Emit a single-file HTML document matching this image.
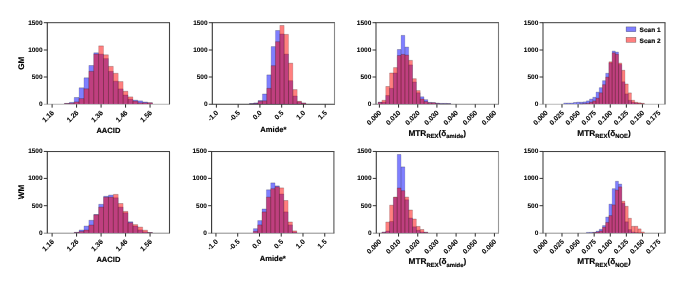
<!DOCTYPE html><html><head><meta charset="utf-8"><style>html,body{margin:0;padding:0;background:#fff;}svg{display:block;will-change:transform;filter:blur(0.25px);}text{text-rendering:geometricPrecision;font-family:"Liberation Sans", sans-serif;font-weight:bold;fill:#000;stroke:#000;stroke-width:0.16px;}text.t{stroke-width:0.08px;}</style></head><body>
<svg width="685" height="284" viewBox="0 0 685 284">
<path d="M43.80 104.25H170.00" fill="none" stroke="#b4b4b4" stroke-width="1"/>
<g fill="rgba(0,0,255,0.5)"><rect x="64.35" y="103.40" width="4.90" height="0.50"/><rect x="69.25" y="102.40" width="4.90" height="1.50"/><rect x="74.15" y="97.50" width="4.90" height="6.40"/><rect x="79.04" y="87.80" width="4.90" height="16.10"/><rect x="83.94" y="77.80" width="4.90" height="26.10"/><rect x="88.84" y="65.50" width="4.90" height="38.40"/><rect x="93.74" y="52.80" width="4.90" height="51.10"/><rect x="98.64" y="54.10" width="4.90" height="49.80"/><rect x="103.53" y="58.60" width="4.90" height="45.30"/><rect x="108.43" y="71.30" width="4.90" height="32.60"/><rect x="113.33" y="81.20" width="4.90" height="22.70"/><rect x="118.23" y="88.90" width="4.90" height="15.00"/><rect x="123.13" y="95.00" width="4.90" height="8.90"/><rect x="128.02" y="99.10" width="4.90" height="4.80"/><rect x="132.92" y="100.20" width="4.90" height="3.70"/><rect x="137.82" y="100.90" width="4.90" height="3.00"/><rect x="142.72" y="102.00" width="4.90" height="1.90"/><rect x="147.62" y="102.80" width="4.90" height="1.10"/></g>
<path d="M64.35 103.40V103.90M69.25 103.40V103.90M69.25 102.40V103.90M74.15 102.40V103.90M74.15 97.50V103.90M79.04 97.50V103.90M79.04 87.80V103.90M83.94 87.80V103.90M83.94 77.80V103.90M88.84 77.80V103.90M88.84 65.50V103.90M93.74 65.50V103.90M93.74 52.80V103.90M98.64 52.80V103.90M98.64 54.10V103.90M103.53 54.10V103.90M103.53 58.60V103.90M108.43 58.60V103.90M108.43 71.30V103.90M113.33 71.30V103.90M113.33 81.20V103.90M118.23 81.20V103.90M118.23 88.90V103.90M123.13 88.90V103.90M123.13 95.00V103.90M128.02 95.00V103.90M128.02 99.10V103.90M132.92 99.10V103.90M132.92 100.20V103.90M137.82 100.20V103.90M137.82 100.90V103.90M142.72 100.90V103.90M142.72 102.00V103.90M147.62 102.00V103.90M147.62 102.80V103.90M152.51 102.80V103.90" stroke="rgba(0,0,0,0.32)" stroke-width="0.40" fill="none"/>
<path d="M64.35 103.40H69.25M69.25 102.40H74.15M74.15 97.50H79.04M79.04 87.80H83.94M83.94 77.80H88.84M88.84 65.50H93.74M93.74 52.80H98.64M98.64 54.10H103.53M103.53 58.60H108.43M108.43 71.30H113.33M113.33 81.20H118.23M118.23 88.90H123.13M123.13 95.00H128.02M128.02 99.10H132.92M132.92 100.20H137.82M137.82 100.90H142.72M142.72 102.00H147.62M147.62 102.80H152.51" stroke="rgba(0,0,0,0.50)" stroke-width="0.45" fill="none"/>
<g fill="rgba(255,0,0,0.5)"><rect x="64.35" y="103.50" width="4.90" height="0.40"/><rect x="69.25" y="103.20" width="4.90" height="0.70"/><rect x="74.15" y="101.90" width="4.90" height="2.00"/><rect x="79.04" y="98.60" width="4.90" height="5.30"/><rect x="83.94" y="88.80" width="4.90" height="15.10"/><rect x="88.84" y="71.30" width="4.90" height="32.60"/><rect x="93.74" y="54.10" width="4.90" height="49.80"/><rect x="98.64" y="45.90" width="4.90" height="58.00"/><rect x="103.53" y="54.80" width="4.90" height="49.10"/><rect x="108.43" y="66.40" width="4.90" height="37.50"/><rect x="113.33" y="73.30" width="4.90" height="30.60"/><rect x="118.23" y="81.60" width="4.90" height="22.30"/><rect x="123.13" y="91.30" width="4.90" height="12.60"/><rect x="128.02" y="96.90" width="4.90" height="7.00"/><rect x="132.92" y="101.10" width="4.90" height="2.80"/><rect x="137.82" y="102.80" width="4.90" height="1.10"/><rect x="142.72" y="102.80" width="4.90" height="1.10"/><rect x="147.62" y="102.80" width="4.90" height="1.10"/></g>
<path d="M64.35 103.50V103.90M69.25 103.50V103.90M69.25 103.20V103.90M74.15 103.20V103.90M74.15 101.90V103.90M79.04 101.90V103.90M79.04 98.60V103.90M83.94 98.60V103.90M83.94 88.80V103.90M88.84 88.80V103.90M88.84 71.30V103.90M93.74 71.30V103.90M93.74 54.10V103.90M98.64 54.10V103.90M98.64 45.90V103.90M103.53 45.90V103.90M103.53 54.80V103.90M108.43 54.80V103.90M108.43 66.40V103.90M113.33 66.40V103.90M113.33 73.30V103.90M118.23 73.30V103.90M118.23 81.60V103.90M123.13 81.60V103.90M123.13 91.30V103.90M128.02 91.30V103.90M128.02 96.90V103.90M132.92 96.90V103.90M132.92 101.10V103.90M137.82 101.10V103.90M137.82 102.80V103.90M142.72 102.80V103.90M142.72 102.80V103.90M147.62 102.80V103.90M147.62 102.80V103.90M152.51 102.80V103.90" stroke="rgba(0,0,0,0.32)" stroke-width="0.40" fill="none"/>
<path d="M64.35 103.50H69.25M69.25 103.20H74.15M74.15 101.90H79.04M79.04 98.60H83.94M83.94 88.80H88.84M88.84 71.30H93.74M93.74 54.10H98.64M98.64 45.90H103.53M103.53 54.80H108.43M108.43 66.40H113.33M113.33 73.30H118.23M118.23 81.60H123.13M123.13 91.30H128.02M128.02 96.90H132.92M132.92 101.10H137.82M137.82 102.80H142.72M142.72 102.80H147.62M147.62 102.80H152.51" stroke="rgba(0,0,0,0.50)" stroke-width="0.45" fill="none"/>
<path d="M46.80 22.70H170.00" fill="none" stroke="#3a3a3a" stroke-width="1"/>
<path d="M47.30 22.70V104.25" fill="none" stroke="#333" stroke-width="1.10"/>
<path d="M169.50 22.70V104.25" fill="none" stroke="#444" stroke-width="1.10"/>
<text class="t" x="42.60" y="105.90" font-size="6.50" text-anchor="end">0</text>
<path d="M43.80 77.00H47.30" stroke="#333" stroke-width="1"/>
<text class="t" x="42.60" y="78.90" font-size="6.50" text-anchor="end">500</text>
<path d="M43.80 50.00H47.30" stroke="#333" stroke-width="1"/>
<text class="t" x="42.60" y="51.90" font-size="6.50" text-anchor="end">1000</text>
<path d="M43.80 22.70H47.30" stroke="#333" stroke-width="1"/>
<text class="t" x="42.60" y="24.60" font-size="6.50" text-anchor="end">1500</text>
<path d="M52.10 104.25V107.65" stroke="#2a2a2a" stroke-width="1"/>
<text class="t" x="54.50" y="113.20" font-size="6.90" text-anchor="end" transform="rotate(-45 54.50 113.20)">1.16</text>
<path d="M76.59 104.25V107.65" stroke="#2a2a2a" stroke-width="1"/>
<text class="t" x="78.99" y="113.20" font-size="6.90" text-anchor="end" transform="rotate(-45 78.99 113.20)">1.26</text>
<path d="M101.08 104.25V107.65" stroke="#2a2a2a" stroke-width="1"/>
<text class="t" x="103.48" y="113.20" font-size="6.90" text-anchor="end" transform="rotate(-45 103.48 113.20)">1.36</text>
<path d="M125.57 104.25V107.65" stroke="#2a2a2a" stroke-width="1"/>
<text class="t" x="127.97" y="113.20" font-size="6.90" text-anchor="end" transform="rotate(-45 127.97 113.20)">1.46</text>
<path d="M150.06 104.25V107.65" stroke="#2a2a2a" stroke-width="1"/>
<text class="t" x="152.46" y="113.20" font-size="6.90" text-anchor="end" transform="rotate(-45 152.46 113.20)">1.56</text>
<text x="108.40" y="132.90" font-size="7.6" text-anchor="middle">AACID</text>
<path d="M208.80 104.25H335.00" fill="none" stroke="#3a3a3a" stroke-width="1"/>
<g fill="rgba(0,0,255,0.5)"><rect x="249.34" y="103.50" width="4.35" height="0.40"/><rect x="253.69" y="102.90" width="4.35" height="1.00"/><rect x="258.04" y="100.50" width="4.35" height="3.40"/><rect x="262.40" y="94.00" width="4.35" height="9.90"/><rect x="266.75" y="74.90" width="4.35" height="29.00"/><rect x="271.10" y="46.60" width="4.35" height="57.30"/><rect x="275.45" y="30.50" width="4.35" height="73.40"/><rect x="279.80" y="34.00" width="4.35" height="69.90"/><rect x="284.16" y="54.10" width="4.35" height="49.80"/><rect x="288.51" y="80.70" width="4.35" height="23.20"/><rect x="292.86" y="96.00" width="4.35" height="7.90"/><rect x="297.21" y="101.80" width="4.35" height="2.10"/><rect x="301.56" y="103.10" width="4.35" height="0.80"/></g>
<path d="M249.34 103.50V103.90M253.69 103.50V103.90M253.69 102.90V103.90M258.04 102.90V103.90M258.04 100.50V103.90M262.40 100.50V103.90M262.40 94.00V103.90M266.75 94.00V103.90M266.75 74.90V103.90M271.10 74.90V103.90M271.10 46.60V103.90M275.45 46.60V103.90M275.45 30.50V103.90M279.80 30.50V103.90M279.80 34.00V103.90M284.16 34.00V103.90M284.16 54.10V103.90M288.51 54.10V103.90M288.51 80.70V103.90M292.86 80.70V103.90M292.86 96.00V103.90M297.21 96.00V103.90M297.21 101.80V103.90M301.56 101.80V103.90M301.56 103.10V103.90M305.92 103.10V103.90" stroke="rgba(0,0,0,0.32)" stroke-width="0.40" fill="none"/>
<path d="M249.34 103.50H253.69M253.69 102.90H258.04M258.04 100.50H262.40M262.40 94.00H266.75M266.75 74.90H271.10M271.10 46.60H275.45M275.45 30.50H279.80M279.80 34.00H284.16M284.16 54.10H288.51M288.51 80.70H292.86M292.86 96.00H297.21M297.21 101.80H301.56M301.56 103.10H305.92" stroke="rgba(0,0,0,0.50)" stroke-width="0.45" fill="none"/>
<g fill="rgba(255,0,0,0.5)"><rect x="249.34" y="103.80" width="4.35" height="0.10"/><rect x="253.69" y="103.50" width="4.35" height="0.40"/><rect x="258.04" y="101.30" width="4.35" height="2.60"/><rect x="262.40" y="100.80" width="4.35" height="3.10"/><rect x="266.75" y="88.30" width="4.35" height="15.60"/><rect x="271.10" y="65.70" width="4.35" height="38.20"/><rect x="275.45" y="41.70" width="4.35" height="62.20"/><rect x="279.80" y="25.50" width="4.35" height="78.40"/><rect x="284.16" y="34.40" width="4.35" height="69.50"/><rect x="288.51" y="63.20" width="4.35" height="40.70"/><rect x="292.86" y="89.60" width="4.35" height="14.30"/><rect x="297.21" y="101.30" width="4.35" height="2.60"/><rect x="301.56" y="103.10" width="4.35" height="0.80"/></g>
<path d="M249.34 103.80V103.90M253.69 103.80V103.90M253.69 103.50V103.90M258.04 103.50V103.90M258.04 101.30V103.90M262.40 101.30V103.90M262.40 100.80V103.90M266.75 100.80V103.90M266.75 88.30V103.90M271.10 88.30V103.90M271.10 65.70V103.90M275.45 65.70V103.90M275.45 41.70V103.90M279.80 41.70V103.90M279.80 25.50V103.90M284.16 25.50V103.90M284.16 34.40V103.90M288.51 34.40V103.90M288.51 63.20V103.90M292.86 63.20V103.90M292.86 89.60V103.90M297.21 89.60V103.90M297.21 101.30V103.90M301.56 101.30V103.90M301.56 103.10V103.90M305.92 103.10V103.90" stroke="rgba(0,0,0,0.32)" stroke-width="0.40" fill="none"/>
<path d="M249.34 103.80H253.69M253.69 103.50H258.04M258.04 101.30H262.40M262.40 100.80H266.75M266.75 88.30H271.10M271.10 65.70H275.45M275.45 41.70H279.80M279.80 25.50H284.16M284.16 34.40H288.51M288.51 63.20H292.86M292.86 89.60H297.21M297.21 101.30H301.56M301.56 103.10H305.92" stroke="rgba(0,0,0,0.50)" stroke-width="0.45" fill="none"/>
<path d="M211.80 22.70H335.00" fill="none" stroke="#3a3a3a" stroke-width="1"/>
<path d="M212.30 22.70V104.25" fill="none" stroke="#333" stroke-width="1.10"/>
<path d="M334.50 22.70V104.25" fill="none" stroke="#888" stroke-width="1.10"/>
<text class="t" x="207.60" y="105.90" font-size="6.50" text-anchor="end">0</text>
<path d="M208.80 77.00H212.30" stroke="#333" stroke-width="1"/>
<text class="t" x="207.60" y="78.90" font-size="6.50" text-anchor="end">500</text>
<path d="M208.80 50.00H212.30" stroke="#333" stroke-width="1"/>
<text class="t" x="207.60" y="51.90" font-size="6.50" text-anchor="end">1000</text>
<path d="M208.80 22.70H212.30" stroke="#333" stroke-width="1"/>
<text class="t" x="207.60" y="24.60" font-size="6.50" text-anchor="end">1500</text>
<path d="M216.40 104.25V107.65" stroke="#2a2a2a" stroke-width="1"/>
<text class="t" x="218.80" y="113.20" font-size="6.90" text-anchor="end" transform="rotate(-45 218.80 113.20)">-1.0</text>
<path d="M238.16 104.25V107.65" stroke="#2a2a2a" stroke-width="1"/>
<text class="t" x="240.56" y="113.20" font-size="6.90" text-anchor="end" transform="rotate(-45 240.56 113.20)">-0.5</text>
<path d="M259.92 104.25V107.65" stroke="#2a2a2a" stroke-width="1"/>
<text class="t" x="262.32" y="113.20" font-size="6.90" text-anchor="end" transform="rotate(-45 262.32 113.20)">0.0</text>
<path d="M281.68 104.25V107.65" stroke="#2a2a2a" stroke-width="1"/>
<text class="t" x="284.08" y="113.20" font-size="6.90" text-anchor="end" transform="rotate(-45 284.08 113.20)">0.5</text>
<path d="M303.44 104.25V107.65" stroke="#2a2a2a" stroke-width="1"/>
<text class="t" x="305.84" y="113.20" font-size="6.90" text-anchor="end" transform="rotate(-45 305.84 113.20)">1.0</text>
<path d="M325.20 104.25V107.65" stroke="#2a2a2a" stroke-width="1"/>
<text class="t" x="327.60" y="113.20" font-size="6.90" text-anchor="end" transform="rotate(-45 327.60 113.20)">1.5</text>
<text x="273.40" y="132.30" font-size="7.6" text-anchor="middle">Amide*</text>
<path d="M372.50 104.25H499.00" fill="none" stroke="#8c8c8c" stroke-width="1"/>
<g fill="rgba(0,0,255,0.5)"><rect x="378.05" y="102.20" width="3.83" height="1.70"/><rect x="381.88" y="102.10" width="3.83" height="1.80"/><rect x="385.72" y="95.50" width="3.83" height="8.40"/><rect x="389.55" y="88.30" width="3.83" height="15.60"/><rect x="393.39" y="73.00" width="3.83" height="30.90"/><rect x="397.22" y="49.50" width="3.83" height="54.40"/><rect x="401.05" y="35.40" width="3.83" height="68.50"/><rect x="404.89" y="47.10" width="3.83" height="56.80"/><rect x="408.72" y="64.90" width="3.83" height="39.00"/><rect x="412.56" y="82.00" width="3.83" height="21.90"/><rect x="416.39" y="92.80" width="3.83" height="11.10"/><rect x="420.22" y="96.80" width="3.83" height="7.10"/><rect x="424.06" y="99.70" width="3.83" height="4.20"/><rect x="427.89" y="102.40" width="3.83" height="1.50"/><rect x="431.73" y="102.60" width="3.83" height="1.30"/><rect x="435.56" y="103.10" width="3.83" height="0.80"/><rect x="439.39" y="103.40" width="3.83" height="0.50"/><rect x="443.23" y="103.40" width="3.83" height="0.50"/><rect x="447.06" y="103.50" width="3.83" height="0.40"/></g>
<path d="M378.05 102.20V103.90M381.88 102.20V103.90M381.88 102.10V103.90M385.72 102.10V103.90M385.72 95.50V103.90M389.55 95.50V103.90M389.55 88.30V103.90M393.39 88.30V103.90M393.39 73.00V103.90M397.22 73.00V103.90M397.22 49.50V103.90M401.05 49.50V103.90M401.05 35.40V103.90M404.89 35.40V103.90M404.89 47.10V103.90M408.72 47.10V103.90M408.72 64.90V103.90M412.56 64.90V103.90M412.56 82.00V103.90M416.39 82.00V103.90M416.39 92.80V103.90M420.22 92.80V103.90M420.22 96.80V103.90M424.06 96.80V103.90M424.06 99.70V103.90M427.89 99.70V103.90M427.89 102.40V103.90M431.73 102.40V103.90M431.73 102.60V103.90M435.56 102.60V103.90M435.56 103.10V103.90M439.39 103.10V103.90M439.39 103.40V103.90M443.23 103.40V103.90M443.23 103.40V103.90M447.06 103.40V103.90M447.06 103.50V103.90M450.90 103.50V103.90" stroke="rgba(0,0,0,0.32)" stroke-width="0.40" fill="none"/>
<path d="M378.05 102.20H381.88M381.88 102.10H385.72M385.72 95.50H389.55M389.55 88.30H393.39M393.39 73.00H397.22M397.22 49.50H401.05M401.05 35.40H404.89M404.89 47.10H408.72M408.72 64.90H412.56M412.56 82.00H416.39M416.39 92.80H420.22M420.22 96.80H424.06M424.06 99.70H427.89M427.89 102.40H431.73M431.73 102.60H435.56M435.56 103.10H439.39M439.39 103.40H443.23M443.23 103.40H447.06M447.06 103.50H450.90" stroke="rgba(0,0,0,0.50)" stroke-width="0.45" fill="none"/>
<g fill="rgba(255,0,0,0.5)"><rect x="378.05" y="102.40" width="3.83" height="1.50"/><rect x="381.88" y="100.30" width="3.83" height="3.60"/><rect x="385.72" y="86.50" width="3.83" height="17.40"/><rect x="389.55" y="73.00" width="3.83" height="30.90"/><rect x="393.39" y="67.60" width="3.83" height="36.30"/><rect x="397.22" y="55.50" width="3.83" height="48.40"/><rect x="401.05" y="54.40" width="3.83" height="49.50"/><rect x="404.89" y="55.10" width="3.83" height="48.80"/><rect x="408.72" y="60.40" width="3.83" height="43.50"/><rect x="412.56" y="78.70" width="3.83" height="25.20"/><rect x="416.39" y="90.60" width="3.83" height="13.30"/><rect x="420.22" y="99.00" width="3.83" height="4.90"/><rect x="424.06" y="101.50" width="3.83" height="2.40"/><rect x="427.89" y="102.80" width="3.83" height="1.10"/><rect x="431.73" y="102.80" width="3.83" height="1.10"/><rect x="435.56" y="103.50" width="3.83" height="0.40"/><rect x="439.39" y="103.80" width="3.83" height="0.10"/><rect x="443.23" y="103.80" width="3.83" height="0.10"/><rect x="447.06" y="103.80" width="3.83" height="0.10"/></g>
<path d="M378.05 102.40V103.90M381.88 102.40V103.90M381.88 100.30V103.90M385.72 100.30V103.90M385.72 86.50V103.90M389.55 86.50V103.90M389.55 73.00V103.90M393.39 73.00V103.90M393.39 67.60V103.90M397.22 67.60V103.90M397.22 55.50V103.90M401.05 55.50V103.90M401.05 54.40V103.90M404.89 54.40V103.90M404.89 55.10V103.90M408.72 55.10V103.90M408.72 60.40V103.90M412.56 60.40V103.90M412.56 78.70V103.90M416.39 78.70V103.90M416.39 90.60V103.90M420.22 90.60V103.90M420.22 99.00V103.90M424.06 99.00V103.90M424.06 101.50V103.90M427.89 101.50V103.90M427.89 102.80V103.90M431.73 102.80V103.90M431.73 102.80V103.90M435.56 102.80V103.90M435.56 103.50V103.90M439.39 103.50V103.90M439.39 103.80V103.90M443.23 103.80V103.90M443.23 103.80V103.90M447.06 103.80V103.90M447.06 103.80V103.90M450.90 103.80V103.90" stroke="rgba(0,0,0,0.32)" stroke-width="0.40" fill="none"/>
<path d="M378.05 102.40H381.88M381.88 100.30H385.72M385.72 86.50H389.55M389.55 73.00H393.39M393.39 67.60H397.22M397.22 55.50H401.05M401.05 54.40H404.89M404.89 55.10H408.72M408.72 60.40H412.56M412.56 78.70H416.39M416.39 90.60H420.22M420.22 99.00H424.06M424.06 101.50H427.89M427.89 102.80H431.73M431.73 102.80H435.56M435.56 103.50H439.39M439.39 103.80H443.23M443.23 103.80H447.06M447.06 103.80H450.90" stroke="rgba(0,0,0,0.50)" stroke-width="0.45" fill="none"/>
<path d="M375.50 22.70H499.00" fill="none" stroke="#3a3a3a" stroke-width="1"/>
<path d="M376.00 22.70V104.25" fill="none" stroke="#444" stroke-width="1.10"/>
<path d="M498.50 22.70V104.25" fill="none" stroke="#777" stroke-width="1.10"/>
<text class="t" x="371.30" y="105.90" font-size="6.50" text-anchor="end">0</text>
<path d="M372.50 77.00H376.00" stroke="#333" stroke-width="1"/>
<text class="t" x="371.30" y="78.90" font-size="6.50" text-anchor="end">500</text>
<path d="M372.50 50.00H376.00" stroke="#333" stroke-width="1"/>
<text class="t" x="371.30" y="51.90" font-size="6.50" text-anchor="end">1000</text>
<path d="M372.50 22.70H376.00" stroke="#333" stroke-width="1"/>
<text class="t" x="371.30" y="24.60" font-size="6.50" text-anchor="end">1500</text>
<path d="M379.40 104.25V107.65" stroke="#2a2a2a" stroke-width="1"/>
<text class="t" x="381.80" y="113.20" font-size="6.90" text-anchor="end" transform="rotate(-45 381.80 113.20)">0.000</text>
<path d="M398.57 104.25V107.65" stroke="#2a2a2a" stroke-width="1"/>
<text class="t" x="400.97" y="113.20" font-size="6.90" text-anchor="end" transform="rotate(-45 400.97 113.20)">0.010</text>
<path d="M417.74 104.25V107.65" stroke="#2a2a2a" stroke-width="1"/>
<text class="t" x="420.14" y="113.20" font-size="6.90" text-anchor="end" transform="rotate(-45 420.14 113.20)">0.020</text>
<path d="M436.91 104.25V107.65" stroke="#2a2a2a" stroke-width="1"/>
<text class="t" x="439.31" y="113.20" font-size="6.90" text-anchor="end" transform="rotate(-45 439.31 113.20)">0.030</text>
<path d="M456.08 104.25V107.65" stroke="#2a2a2a" stroke-width="1"/>
<text class="t" x="458.48" y="113.20" font-size="6.90" text-anchor="end" transform="rotate(-45 458.48 113.20)">0.040</text>
<path d="M475.25 104.25V107.65" stroke="#2a2a2a" stroke-width="1"/>
<text class="t" x="477.65" y="113.20" font-size="6.90" text-anchor="end" transform="rotate(-45 477.65 113.20)">0.050</text>
<path d="M494.42 104.25V107.65" stroke="#2a2a2a" stroke-width="1"/>
<text class="t" x="496.82" y="113.20" font-size="6.90" text-anchor="end" transform="rotate(-45 496.82 113.20)">0.060</text>
<text x="437.25" y="135.50" font-size="8.3" text-anchor="middle">MTR<tspan font-size="5.9" dy="2.4">REX</tspan><tspan dy="-2.4">(δ</tspan><tspan font-size="5.9" dy="2.4">amide</tspan><tspan dy="-2.4">)</tspan></text>
<path d="M539.50 104.25H665.50" fill="none" stroke="#b8b8b8" stroke-width="1"/>
<g fill="rgba(0,0,255,0.5)"><rect x="563.66" y="103.10" width="3.23" height="0.80"/><rect x="566.89" y="103.10" width="3.23" height="0.80"/><rect x="570.12" y="103.10" width="3.23" height="0.80"/><rect x="573.35" y="102.50" width="3.23" height="1.40"/><rect x="576.58" y="102.20" width="3.23" height="1.70"/><rect x="579.81" y="102.20" width="3.23" height="1.70"/><rect x="583.04" y="101.90" width="3.23" height="2.00"/><rect x="586.27" y="100.90" width="3.23" height="3.00"/><rect x="589.50" y="99.10" width="3.23" height="4.80"/><rect x="592.73" y="97.30" width="3.23" height="6.60"/><rect x="595.96" y="92.20" width="3.23" height="11.70"/><rect x="599.19" y="87.70" width="3.23" height="16.20"/><rect x="602.42" y="80.70" width="3.23" height="23.20"/><rect x="605.65" y="73.30" width="3.23" height="30.60"/><rect x="608.88" y="62.80" width="3.23" height="41.10"/><rect x="612.11" y="51.10" width="3.23" height="52.80"/><rect x="615.34" y="52.10" width="3.23" height="51.80"/><rect x="618.57" y="64.50" width="3.23" height="39.40"/><rect x="621.80" y="81.80" width="3.23" height="22.10"/><rect x="625.03" y="93.90" width="3.23" height="10.00"/><rect x="628.26" y="100.30" width="3.23" height="3.60"/><rect x="631.49" y="102.30" width="3.23" height="1.60"/><rect x="634.72" y="103.00" width="3.23" height="0.90"/><rect x="637.95" y="103.50" width="3.23" height="0.40"/><rect x="641.18" y="103.80" width="3.23" height="0.10"/></g>
<path d="M563.66 103.10V103.90M566.89 103.10V103.90M566.89 103.10V103.90M570.12 103.10V103.90M570.12 103.10V103.90M573.35 103.10V103.90M573.35 102.50V103.90M576.58 102.50V103.90M576.58 102.20V103.90M579.81 102.20V103.90M579.81 102.20V103.90M583.04 102.20V103.90M583.04 101.90V103.90M586.27 101.90V103.90M586.27 100.90V103.90M589.50 100.90V103.90M589.50 99.10V103.90M592.73 99.10V103.90M592.73 97.30V103.90M595.96 97.30V103.90M595.96 92.20V103.90M599.19 92.20V103.90M599.19 87.70V103.90M602.42 87.70V103.90M602.42 80.70V103.90M605.65 80.70V103.90M605.65 73.30V103.90M608.88 73.30V103.90M608.88 62.80V103.90M612.11 62.80V103.90M612.11 51.10V103.90M615.34 51.10V103.90M615.34 52.10V103.90M618.57 52.10V103.90M618.57 64.50V103.90M621.80 64.50V103.90M621.80 81.80V103.90M625.03 81.80V103.90M625.03 93.90V103.90M628.26 93.90V103.90M628.26 100.30V103.90M631.49 100.30V103.90M631.49 102.30V103.90M634.72 102.30V103.90M634.72 103.00V103.90M637.95 103.00V103.90M637.95 103.50V103.90M641.18 103.50V103.90M641.18 103.80V103.90M644.41 103.80V103.90" stroke="rgba(0,0,0,0.32)" stroke-width="0.40" fill="none"/>
<path d="M563.66 103.10H566.89M566.89 103.10H570.12M570.12 103.10H573.35M573.35 102.50H576.58M576.58 102.20H579.81M579.81 102.20H583.04M583.04 101.90H586.27M586.27 100.90H589.50M589.50 99.10H592.73M592.73 97.30H595.96M595.96 92.20H599.19M599.19 87.70H602.42M602.42 80.70H605.65M605.65 73.30H608.88M608.88 62.80H612.11M612.11 51.10H615.34M615.34 52.10H618.57M618.57 64.50H621.80M621.80 81.80H625.03M625.03 93.90H628.26M628.26 100.30H631.49M631.49 102.30H634.72M634.72 103.00H637.95M637.95 103.50H641.18M641.18 103.80H644.41" stroke="rgba(0,0,0,0.50)" stroke-width="0.45" fill="none"/>
<g fill="rgba(255,0,0,0.5)"><rect x="579.81" y="103.80" width="3.23" height="0.10"/><rect x="583.04" y="103.60" width="3.23" height="0.30"/><rect x="586.27" y="103.20" width="3.23" height="0.70"/><rect x="589.50" y="102.10" width="3.23" height="1.80"/><rect x="592.73" y="100.90" width="3.23" height="3.00"/><rect x="595.96" y="98.20" width="3.23" height="5.70"/><rect x="599.19" y="92.80" width="3.23" height="11.10"/><rect x="602.42" y="84.70" width="3.23" height="19.20"/><rect x="605.65" y="77.10" width="3.23" height="26.80"/><rect x="608.88" y="61.80" width="3.23" height="42.10"/><rect x="612.11" y="52.80" width="3.23" height="51.10"/><rect x="615.34" y="54.20" width="3.23" height="49.70"/><rect x="618.57" y="63.10" width="3.23" height="40.80"/><rect x="621.80" y="70.30" width="3.23" height="33.60"/><rect x="625.03" y="84.00" width="3.23" height="19.90"/><rect x="628.26" y="92.90" width="3.23" height="11.00"/><rect x="631.49" y="100.30" width="3.23" height="3.60"/><rect x="634.72" y="102.30" width="3.23" height="1.60"/><rect x="637.95" y="102.80" width="3.23" height="1.10"/><rect x="641.18" y="103.30" width="3.23" height="0.60"/></g>
<path d="M579.81 103.80V103.90M583.04 103.80V103.90M583.04 103.60V103.90M586.27 103.60V103.90M586.27 103.20V103.90M589.50 103.20V103.90M589.50 102.10V103.90M592.73 102.10V103.90M592.73 100.90V103.90M595.96 100.90V103.90M595.96 98.20V103.90M599.19 98.20V103.90M599.19 92.80V103.90M602.42 92.80V103.90M602.42 84.70V103.90M605.65 84.70V103.90M605.65 77.10V103.90M608.88 77.10V103.90M608.88 61.80V103.90M612.11 61.80V103.90M612.11 52.80V103.90M615.34 52.80V103.90M615.34 54.20V103.90M618.57 54.20V103.90M618.57 63.10V103.90M621.80 63.10V103.90M621.80 70.30V103.90M625.03 70.30V103.90M625.03 84.00V103.90M628.26 84.00V103.90M628.26 92.90V103.90M631.49 92.90V103.90M631.49 100.30V103.90M634.72 100.30V103.90M634.72 102.30V103.90M637.95 102.30V103.90M637.95 102.80V103.90M641.18 102.80V103.90M641.18 103.30V103.90M644.41 103.30V103.90" stroke="rgba(0,0,0,0.32)" stroke-width="0.40" fill="none"/>
<path d="M579.81 103.80H583.04M583.04 103.60H586.27M586.27 103.20H589.50M589.50 102.10H592.73M592.73 100.90H595.96M595.96 98.20H599.19M599.19 92.80H602.42M602.42 84.70H605.65M605.65 77.10H608.88M608.88 61.80H612.11M612.11 52.80H615.34M615.34 54.20H618.57M618.57 63.10H621.80M621.80 70.30H625.03M625.03 84.00H628.26M628.26 92.90H631.49M631.49 100.30H634.72M634.72 102.30H637.95M637.95 102.80H641.18M641.18 103.30H644.41" stroke="rgba(0,0,0,0.50)" stroke-width="0.45" fill="none"/>
<path d="M542.50 22.70H665.50" fill="none" stroke="#3a3a3a" stroke-width="1"/>
<path d="M543.00 22.70V104.25" fill="none" stroke="#444" stroke-width="1.10"/>
<path d="M665.00 22.70V104.25" fill="none" stroke="#444" stroke-width="1.10"/>
<text class="t" x="538.30" y="105.90" font-size="6.50" text-anchor="end">0</text>
<path d="M539.50 77.00H543.00" stroke="#333" stroke-width="1"/>
<text class="t" x="538.30" y="78.90" font-size="6.50" text-anchor="end">500</text>
<path d="M539.50 50.00H543.00" stroke="#333" stroke-width="1"/>
<text class="t" x="538.30" y="51.90" font-size="6.50" text-anchor="end">1000</text>
<path d="M539.50 22.70H543.00" stroke="#333" stroke-width="1"/>
<text class="t" x="538.30" y="24.60" font-size="6.50" text-anchor="end">1500</text>
<path d="M545.90 104.25V107.65" stroke="#2a2a2a" stroke-width="1"/>
<text class="t" x="548.30" y="113.20" font-size="6.90" text-anchor="end" transform="rotate(-45 548.30 113.20)">0.000</text>
<path d="M561.99 104.25V107.65" stroke="#2a2a2a" stroke-width="1"/>
<text class="t" x="564.39" y="113.20" font-size="6.90" text-anchor="end" transform="rotate(-45 564.39 113.20)">0.025</text>
<path d="M578.08 104.25V107.65" stroke="#2a2a2a" stroke-width="1"/>
<text class="t" x="580.48" y="113.20" font-size="6.90" text-anchor="end" transform="rotate(-45 580.48 113.20)">0.050</text>
<path d="M594.17 104.25V107.65" stroke="#2a2a2a" stroke-width="1"/>
<text class="t" x="596.57" y="113.20" font-size="6.90" text-anchor="end" transform="rotate(-45 596.57 113.20)">0.075</text>
<path d="M610.26 104.25V107.65" stroke="#2a2a2a" stroke-width="1"/>
<text class="t" x="612.66" y="113.20" font-size="6.90" text-anchor="end" transform="rotate(-45 612.66 113.20)">0.100</text>
<path d="M626.35 104.25V107.65" stroke="#2a2a2a" stroke-width="1"/>
<text class="t" x="628.75" y="113.20" font-size="6.90" text-anchor="end" transform="rotate(-45 628.75 113.20)">0.125</text>
<path d="M642.44 104.25V107.65" stroke="#2a2a2a" stroke-width="1"/>
<text class="t" x="644.84" y="113.20" font-size="6.90" text-anchor="end" transform="rotate(-45 644.84 113.20)">0.150</text>
<path d="M658.53 104.25V107.65" stroke="#2a2a2a" stroke-width="1"/>
<text class="t" x="660.93" y="113.20" font-size="6.90" text-anchor="end" transform="rotate(-45 660.93 113.20)">0.175</text>
<text x="604.00" y="135.50" font-size="8.3" text-anchor="middle">MTR<tspan font-size="5.9" dy="2.4">REX</tspan><tspan dy="-2.4">(δ</tspan><tspan font-size="5.9" dy="2.4">NOE</tspan><tspan dy="-2.4">)</tspan></text>
<text x="0" y="0" font-size="8.2" text-anchor="middle" transform="translate(23.9 63.18) rotate(-90)">GM</text>
<path d="M43.80 233.20H170.00" fill="none" stroke="#8c8c8c" stroke-width="1"/>
<g fill="rgba(0,0,255,0.5)"><rect x="74.15" y="232.30" width="4.90" height="0.55"/><rect x="79.05" y="230.00" width="4.90" height="2.85"/><rect x="83.95" y="226.10" width="4.90" height="6.75"/><rect x="88.84" y="220.30" width="4.90" height="12.55"/><rect x="93.74" y="214.50" width="4.90" height="18.35"/><rect x="98.64" y="204.30" width="4.90" height="28.55"/><rect x="103.54" y="196.30" width="4.90" height="36.55"/><rect x="108.44" y="195.10" width="4.90" height="37.75"/><rect x="113.33" y="197.80" width="4.90" height="35.05"/><rect x="118.23" y="207.10" width="4.90" height="25.75"/><rect x="123.13" y="212.80" width="4.90" height="20.05"/><rect x="128.03" y="221.80" width="4.90" height="11.05"/><rect x="132.93" y="226.00" width="4.90" height="6.85"/><rect x="137.82" y="229.90" width="4.90" height="2.95"/><rect x="142.72" y="231.90" width="4.90" height="0.95"/><rect x="147.62" y="232.50" width="4.90" height="0.35"/></g>
<path d="M74.15 232.30V232.85M79.05 232.30V232.85M79.05 230.00V232.85M83.95 230.00V232.85M83.95 226.10V232.85M88.84 226.10V232.85M88.84 220.30V232.85M93.74 220.30V232.85M93.74 214.50V232.85M98.64 214.50V232.85M98.64 204.30V232.85M103.54 204.30V232.85M103.54 196.30V232.85M108.44 196.30V232.85M108.44 195.10V232.85M113.33 195.10V232.85M113.33 197.80V232.85M118.23 197.80V232.85M118.23 207.10V232.85M123.13 207.10V232.85M123.13 212.80V232.85M128.03 212.80V232.85M128.03 221.80V232.85M132.93 221.80V232.85M132.93 226.00V232.85M137.82 226.00V232.85M137.82 229.90V232.85M142.72 229.90V232.85M142.72 231.90V232.85M147.62 231.90V232.85M147.62 232.50V232.85M152.52 232.50V232.85" stroke="rgba(0,0,0,0.32)" stroke-width="0.40" fill="none"/>
<path d="M74.15 232.30H79.05M79.05 230.00H83.95M83.95 226.10H88.84M88.84 220.30H93.74M93.74 214.50H98.64M98.64 204.30H103.54M103.54 196.30H108.44M108.44 195.10H113.33M113.33 197.80H118.23M118.23 207.10H123.13M123.13 212.80H128.03M128.03 221.80H132.93M132.93 226.00H137.82M137.82 229.90H142.72M142.72 231.90H147.62M147.62 232.50H152.52" stroke="rgba(0,0,0,0.50)" stroke-width="0.45" fill="none"/>
<g fill="rgba(255,0,0,0.5)"><rect x="74.15" y="232.50" width="4.90" height="0.35"/><rect x="79.05" y="231.40" width="4.90" height="1.45"/><rect x="83.95" y="230.00" width="4.90" height="2.85"/><rect x="88.84" y="225.00" width="4.90" height="7.85"/><rect x="93.74" y="214.80" width="4.90" height="18.05"/><rect x="98.64" y="207.10" width="4.90" height="25.75"/><rect x="103.54" y="197.20" width="4.90" height="35.65"/><rect x="108.44" y="197.10" width="4.90" height="35.75"/><rect x="113.33" y="194.40" width="4.90" height="38.45"/><rect x="118.23" y="203.50" width="4.90" height="29.35"/><rect x="123.13" y="211.40" width="4.90" height="21.45"/><rect x="128.03" y="222.70" width="4.90" height="10.15"/><rect x="132.93" y="224.60" width="4.90" height="8.25"/><rect x="137.82" y="227.10" width="4.90" height="5.75"/><rect x="142.72" y="230.20" width="4.90" height="2.65"/><rect x="147.62" y="232.50" width="4.90" height="0.35"/></g>
<path d="M74.15 232.50V232.85M79.05 232.50V232.85M79.05 231.40V232.85M83.95 231.40V232.85M83.95 230.00V232.85M88.84 230.00V232.85M88.84 225.00V232.85M93.74 225.00V232.85M93.74 214.80V232.85M98.64 214.80V232.85M98.64 207.10V232.85M103.54 207.10V232.85M103.54 197.20V232.85M108.44 197.20V232.85M108.44 197.10V232.85M113.33 197.10V232.85M113.33 194.40V232.85M118.23 194.40V232.85M118.23 203.50V232.85M123.13 203.50V232.85M123.13 211.40V232.85M128.03 211.40V232.85M128.03 222.70V232.85M132.93 222.70V232.85M132.93 224.60V232.85M137.82 224.60V232.85M137.82 227.10V232.85M142.72 227.10V232.85M142.72 230.20V232.85M147.62 230.20V232.85M147.62 232.50V232.85M152.52 232.50V232.85" stroke="rgba(0,0,0,0.32)" stroke-width="0.40" fill="none"/>
<path d="M74.15 232.50H79.05M79.05 231.40H83.95M83.95 230.00H88.84M88.84 225.00H93.74M93.74 214.80H98.64M98.64 207.10H103.54M103.54 197.20H108.44M108.44 197.10H113.33M113.33 194.40H118.23M118.23 203.50H123.13M123.13 211.40H128.03M128.03 222.70H132.93M132.93 224.60H137.82M137.82 227.10H142.72M142.72 230.20H147.62M147.62 232.50H152.52" stroke="rgba(0,0,0,0.50)" stroke-width="0.45" fill="none"/>
<path d="M46.80 151.55H170.00" fill="none" stroke="#3a3a3a" stroke-width="1"/>
<path d="M47.30 151.55V233.20" fill="none" stroke="#333" stroke-width="1.10"/>
<path d="M169.50 151.55V233.20" fill="none" stroke="#444" stroke-width="1.10"/>
<text class="t" x="42.60" y="234.90" font-size="6.50" text-anchor="end">0</text>
<path d="M43.80 205.70H47.30" stroke="#333" stroke-width="1"/>
<text class="t" x="42.60" y="207.60" font-size="6.50" text-anchor="end">500</text>
<path d="M43.80 178.40H47.30" stroke="#333" stroke-width="1"/>
<text class="t" x="42.60" y="180.30" font-size="6.50" text-anchor="end">1000</text>
<path d="M43.80 151.45H47.30" stroke="#333" stroke-width="1"/>
<text class="t" x="42.60" y="153.35" font-size="6.50" text-anchor="end">1500</text>
<path d="M52.10 233.20V236.60" stroke="#2a2a2a" stroke-width="1"/>
<text class="t" x="54.50" y="242.15" font-size="6.90" text-anchor="end" transform="rotate(-45 54.50 242.15)">1.16</text>
<path d="M76.59 233.20V236.60" stroke="#2a2a2a" stroke-width="1"/>
<text class="t" x="78.99" y="242.15" font-size="6.90" text-anchor="end" transform="rotate(-45 78.99 242.15)">1.26</text>
<path d="M101.08 233.20V236.60" stroke="#2a2a2a" stroke-width="1"/>
<text class="t" x="103.48" y="242.15" font-size="6.90" text-anchor="end" transform="rotate(-45 103.48 242.15)">1.36</text>
<path d="M125.57 233.20V236.60" stroke="#2a2a2a" stroke-width="1"/>
<text class="t" x="127.97" y="242.15" font-size="6.90" text-anchor="end" transform="rotate(-45 127.97 242.15)">1.46</text>
<path d="M150.06 233.20V236.60" stroke="#2a2a2a" stroke-width="1"/>
<text class="t" x="152.46" y="242.15" font-size="6.90" text-anchor="end" transform="rotate(-45 152.46 242.15)">1.56</text>
<text x="108.40" y="261.85" font-size="7.6" text-anchor="middle">AACID</text>
<path d="M208.10 233.20H334.40" fill="none" stroke="#8c8c8c" stroke-width="1"/>
<g fill="rgba(0,0,255,0.5)"><rect x="253.30" y="228.70" width="4.35" height="4.15"/><rect x="257.65" y="220.60" width="4.35" height="12.25"/><rect x="262.01" y="209.00" width="4.35" height="23.85"/><rect x="266.36" y="189.80" width="4.35" height="43.05"/><rect x="270.71" y="182.90" width="4.35" height="49.95"/><rect x="275.06" y="185.90" width="4.35" height="46.95"/><rect x="279.41" y="194.00" width="4.35" height="38.85"/><rect x="283.77" y="211.90" width="4.35" height="20.95"/><rect x="288.12" y="224.90" width="4.35" height="7.95"/><rect x="292.47" y="232.00" width="4.35" height="0.85"/></g>
<path d="M253.30 228.70V232.85M257.65 228.70V232.85M257.65 220.60V232.85M262.01 220.60V232.85M262.01 209.00V232.85M266.36 209.00V232.85M266.36 189.80V232.85M270.71 189.80V232.85M270.71 182.90V232.85M275.06 182.90V232.85M275.06 185.90V232.85M279.41 185.90V232.85M279.41 194.00V232.85M283.77 194.00V232.85M283.77 211.90V232.85M288.12 211.90V232.85M288.12 224.90V232.85M292.47 224.90V232.85M292.47 232.00V232.85M296.82 232.00V232.85" stroke="rgba(0,0,0,0.32)" stroke-width="0.40" fill="none"/>
<path d="M253.30 228.70H257.65M257.65 220.60H262.01M262.01 209.00H266.36M266.36 189.80H270.71M270.71 182.90H275.06M275.06 185.90H279.41M279.41 194.00H283.77M283.77 211.90H288.12M288.12 224.90H292.47M292.47 232.00H296.82" stroke="rgba(0,0,0,0.50)" stroke-width="0.45" fill="none"/>
<g fill="rgba(255,0,0,0.5)"><rect x="253.30" y="231.30" width="4.35" height="1.55"/><rect x="257.65" y="224.90" width="4.35" height="7.95"/><rect x="262.01" y="211.90" width="4.35" height="20.95"/><rect x="266.36" y="197.10" width="4.35" height="35.75"/><rect x="270.71" y="188.70" width="4.35" height="44.15"/><rect x="275.06" y="186.80" width="4.35" height="46.05"/><rect x="279.41" y="187.90" width="4.35" height="44.95"/><rect x="283.77" y="200.50" width="4.35" height="32.35"/><rect x="288.12" y="222.00" width="4.35" height="10.85"/><rect x="292.47" y="230.90" width="4.35" height="1.95"/></g>
<path d="M253.30 231.30V232.85M257.65 231.30V232.85M257.65 224.90V232.85M262.01 224.90V232.85M262.01 211.90V232.85M266.36 211.90V232.85M266.36 197.10V232.85M270.71 197.10V232.85M270.71 188.70V232.85M275.06 188.70V232.85M275.06 186.80V232.85M279.41 186.80V232.85M279.41 187.90V232.85M283.77 187.90V232.85M283.77 200.50V232.85M288.12 200.50V232.85M288.12 222.00V232.85M292.47 222.00V232.85M292.47 230.90V232.85M296.82 230.90V232.85" stroke="rgba(0,0,0,0.32)" stroke-width="0.40" fill="none"/>
<path d="M253.30 231.30H257.65M257.65 224.90H262.01M262.01 211.90H266.36M266.36 197.10H270.71M270.71 188.70H275.06M275.06 186.80H279.41M279.41 187.90H283.77M283.77 200.50H288.12M288.12 222.00H292.47M292.47 230.90H296.82" stroke="rgba(0,0,0,0.50)" stroke-width="0.45" fill="none"/>
<path d="M211.10 151.55H334.40" fill="none" stroke="#3a3a3a" stroke-width="1"/>
<path d="M211.60 151.55V233.20" fill="none" stroke="#333" stroke-width="1.10"/>
<path d="M333.90 151.55V233.20" fill="none" stroke="#555" stroke-width="1.10"/>
<text class="t" x="206.90" y="234.90" font-size="6.50" text-anchor="end">0</text>
<path d="M208.10 205.70H211.60" stroke="#333" stroke-width="1"/>
<text class="t" x="206.90" y="207.60" font-size="6.50" text-anchor="end">500</text>
<path d="M208.10 178.40H211.60" stroke="#333" stroke-width="1"/>
<text class="t" x="206.90" y="180.30" font-size="6.50" text-anchor="end">1000</text>
<path d="M208.10 151.45H211.60" stroke="#333" stroke-width="1"/>
<text class="t" x="206.90" y="153.35" font-size="6.50" text-anchor="end">1500</text>
<path d="M215.95 233.20V236.60" stroke="#2a2a2a" stroke-width="1"/>
<text class="t" x="218.35" y="242.15" font-size="6.90" text-anchor="end" transform="rotate(-45 218.35 242.15)">-1.0</text>
<path d="M237.71 233.20V236.60" stroke="#2a2a2a" stroke-width="1"/>
<text class="t" x="240.11" y="242.15" font-size="6.90" text-anchor="end" transform="rotate(-45 240.11 242.15)">-0.5</text>
<path d="M259.47 233.20V236.60" stroke="#2a2a2a" stroke-width="1"/>
<text class="t" x="261.87" y="242.15" font-size="6.90" text-anchor="end" transform="rotate(-45 261.87 242.15)">0.0</text>
<path d="M281.23 233.20V236.60" stroke="#2a2a2a" stroke-width="1"/>
<text class="t" x="283.63" y="242.15" font-size="6.90" text-anchor="end" transform="rotate(-45 283.63 242.15)">0.5</text>
<path d="M302.99 233.20V236.60" stroke="#2a2a2a" stroke-width="1"/>
<text class="t" x="305.39" y="242.15" font-size="6.90" text-anchor="end" transform="rotate(-45 305.39 242.15)">1.0</text>
<path d="M324.75 233.20V236.60" stroke="#2a2a2a" stroke-width="1"/>
<text class="t" x="327.15" y="242.15" font-size="6.90" text-anchor="end" transform="rotate(-45 327.15 242.15)">1.5</text>
<text x="272.75" y="261.25" font-size="7.6" text-anchor="middle">Amide*</text>
<path d="M372.80 233.20H499.00" fill="none" stroke="#8c8c8c" stroke-width="1"/>
<g fill="rgba(0,0,255,0.5)"><rect x="381.88" y="232.20" width="3.83" height="0.65"/><rect x="385.71" y="231.00" width="3.83" height="1.85"/><rect x="389.55" y="221.50" width="3.83" height="11.35"/><rect x="393.38" y="197.50" width="3.83" height="35.35"/><rect x="397.22" y="154.50" width="3.83" height="78.35"/><rect x="401.05" y="166.90" width="3.83" height="65.95"/><rect x="404.88" y="199.80" width="3.83" height="33.05"/><rect x="408.72" y="218.00" width="3.83" height="14.85"/><rect x="412.55" y="226.80" width="3.83" height="6.05"/><rect x="416.39" y="230.20" width="3.83" height="2.65"/><rect x="420.22" y="232.00" width="3.83" height="0.85"/><rect x="424.05" y="232.30" width="3.83" height="0.55"/></g>
<path d="M381.88 232.20V232.85M385.71 232.20V232.85M385.71 231.00V232.85M389.55 231.00V232.85M389.55 221.50V232.85M393.38 221.50V232.85M393.38 197.50V232.85M397.22 197.50V232.85M397.22 154.50V232.85M401.05 154.50V232.85M401.05 166.90V232.85M404.88 166.90V232.85M404.88 199.80V232.85M408.72 199.80V232.85M408.72 218.00V232.85M412.55 218.00V232.85M412.55 226.80V232.85M416.39 226.80V232.85M416.39 230.20V232.85M420.22 230.20V232.85M420.22 232.00V232.85M424.05 232.00V232.85M424.05 232.30V232.85M427.89 232.30V232.85" stroke="rgba(0,0,0,0.32)" stroke-width="0.40" fill="none"/>
<path d="M381.88 232.20H385.71M385.71 231.00H389.55M389.55 221.50H393.38M393.38 197.50H397.22M397.22 154.50H401.05M401.05 166.90H404.88M404.88 199.80H408.72M408.72 218.00H412.55M412.55 226.80H416.39M416.39 230.20H420.22M420.22 232.00H424.05M424.05 232.30H427.89" stroke="rgba(0,0,0,0.50)" stroke-width="0.45" fill="none"/>
<g fill="rgba(255,0,0,0.5)"><rect x="381.88" y="232.30" width="3.83" height="0.55"/><rect x="385.71" y="222.10" width="3.83" height="10.75"/><rect x="389.55" y="205.20" width="3.83" height="27.65"/><rect x="393.38" y="197.10" width="3.83" height="35.75"/><rect x="397.22" y="188.00" width="3.83" height="44.85"/><rect x="401.05" y="190.70" width="3.83" height="42.15"/><rect x="404.88" y="197.10" width="3.83" height="35.75"/><rect x="408.72" y="210.00" width="3.83" height="22.85"/><rect x="412.55" y="219.00" width="3.83" height="13.85"/><rect x="416.39" y="226.40" width="3.83" height="6.45"/><rect x="420.22" y="229.50" width="3.83" height="3.35"/><rect x="424.05" y="232.30" width="3.83" height="0.55"/></g>
<path d="M381.88 232.30V232.85M385.71 232.30V232.85M385.71 222.10V232.85M389.55 222.10V232.85M389.55 205.20V232.85M393.38 205.20V232.85M393.38 197.10V232.85M397.22 197.10V232.85M397.22 188.00V232.85M401.05 188.00V232.85M401.05 190.70V232.85M404.88 190.70V232.85M404.88 197.10V232.85M408.72 197.10V232.85M408.72 210.00V232.85M412.55 210.00V232.85M412.55 219.00V232.85M416.39 219.00V232.85M416.39 226.40V232.85M420.22 226.40V232.85M420.22 229.50V232.85M424.05 229.50V232.85M424.05 232.30V232.85M427.89 232.30V232.85" stroke="rgba(0,0,0,0.32)" stroke-width="0.40" fill="none"/>
<path d="M381.88 232.30H385.71M385.71 222.10H389.55M389.55 205.20H393.38M393.38 197.10H397.22M397.22 188.00H401.05M401.05 190.70H404.88M404.88 197.10H408.72M408.72 210.00H412.55M412.55 219.00H416.39M416.39 226.40H420.22M420.22 229.50H424.05M424.05 232.30H427.89" stroke="rgba(0,0,0,0.50)" stroke-width="0.45" fill="none"/>
<path d="M375.80 151.55H499.00" fill="none" stroke="#3a3a3a" stroke-width="1"/>
<path d="M376.30 151.55V233.20" fill="none" stroke="#3a3a3a" stroke-width="1.10"/>
<path d="M498.50 151.55V233.20" fill="none" stroke="#999" stroke-width="1.10"/>
<text class="t" x="371.60" y="234.90" font-size="6.50" text-anchor="end">0</text>
<path d="M372.80 205.70H376.30" stroke="#333" stroke-width="1"/>
<text class="t" x="371.60" y="207.60" font-size="6.50" text-anchor="end">500</text>
<path d="M372.80 178.40H376.30" stroke="#333" stroke-width="1"/>
<text class="t" x="371.60" y="180.30" font-size="6.50" text-anchor="end">1000</text>
<path d="M372.80 151.45H376.30" stroke="#333" stroke-width="1"/>
<text class="t" x="371.60" y="153.35" font-size="6.50" text-anchor="end">1500</text>
<path d="M379.40 233.20V236.60" stroke="#2a2a2a" stroke-width="1"/>
<text class="t" x="381.80" y="242.15" font-size="6.90" text-anchor="end" transform="rotate(-45 381.80 242.15)">0.000</text>
<path d="M398.57 233.20V236.60" stroke="#2a2a2a" stroke-width="1"/>
<text class="t" x="400.97" y="242.15" font-size="6.90" text-anchor="end" transform="rotate(-45 400.97 242.15)">0.010</text>
<path d="M417.74 233.20V236.60" stroke="#2a2a2a" stroke-width="1"/>
<text class="t" x="420.14" y="242.15" font-size="6.90" text-anchor="end" transform="rotate(-45 420.14 242.15)">0.020</text>
<path d="M436.91 233.20V236.60" stroke="#2a2a2a" stroke-width="1"/>
<text class="t" x="439.31" y="242.15" font-size="6.90" text-anchor="end" transform="rotate(-45 439.31 242.15)">0.030</text>
<path d="M456.08 233.20V236.60" stroke="#2a2a2a" stroke-width="1"/>
<text class="t" x="458.48" y="242.15" font-size="6.90" text-anchor="end" transform="rotate(-45 458.48 242.15)">0.040</text>
<path d="M475.25 233.20V236.60" stroke="#2a2a2a" stroke-width="1"/>
<text class="t" x="477.65" y="242.15" font-size="6.90" text-anchor="end" transform="rotate(-45 477.65 242.15)">0.050</text>
<path d="M494.42 233.20V236.60" stroke="#2a2a2a" stroke-width="1"/>
<text class="t" x="496.82" y="242.15" font-size="6.90" text-anchor="end" transform="rotate(-45 496.82 242.15)">0.060</text>
<text x="437.40" y="264.45" font-size="8.3" text-anchor="middle">MTR<tspan font-size="5.9" dy="2.4">REX</tspan><tspan dy="-2.4">(δ</tspan><tspan font-size="5.9" dy="2.4">amide</tspan><tspan dy="-2.4">)</tspan></text>
<path d="M539.50 233.20H665.50" fill="none" stroke="#929292" stroke-width="1"/>
<g fill="rgba(0,0,255,0.5)"><rect x="586.27" y="232.40" width="3.23" height="0.45"/><rect x="589.50" y="232.30" width="3.23" height="0.55"/><rect x="592.73" y="232.30" width="3.23" height="0.55"/><rect x="595.96" y="231.20" width="3.23" height="1.65"/><rect x="599.19" y="229.30" width="3.23" height="3.55"/><rect x="602.42" y="225.60" width="3.23" height="7.25"/><rect x="605.65" y="217.10" width="3.23" height="15.75"/><rect x="608.88" y="204.20" width="3.23" height="28.65"/><rect x="612.11" y="188.70" width="3.23" height="44.15"/><rect x="615.34" y="181.30" width="3.23" height="51.55"/><rect x="618.57" y="184.10" width="3.23" height="48.75"/><rect x="621.80" y="203.30" width="3.23" height="29.55"/><rect x="625.03" y="221.80" width="3.23" height="11.05"/><rect x="628.26" y="229.60" width="3.23" height="3.25"/><rect x="631.49" y="232.00" width="3.23" height="0.85"/><rect x="634.72" y="232.50" width="3.23" height="0.35"/><rect x="637.95" y="232.70" width="3.23" height="0.15"/></g>
<path d="M586.27 232.40V232.85M589.50 232.40V232.85M589.50 232.30V232.85M592.73 232.30V232.85M592.73 232.30V232.85M595.96 232.30V232.85M595.96 231.20V232.85M599.19 231.20V232.85M599.19 229.30V232.85M602.42 229.30V232.85M602.42 225.60V232.85M605.65 225.60V232.85M605.65 217.10V232.85M608.88 217.10V232.85M608.88 204.20V232.85M612.11 204.20V232.85M612.11 188.70V232.85M615.34 188.70V232.85M615.34 181.30V232.85M618.57 181.30V232.85M618.57 184.10V232.85M621.80 184.10V232.85M621.80 203.30V232.85M625.03 203.30V232.85M625.03 221.80V232.85M628.26 221.80V232.85M628.26 229.60V232.85M631.49 229.60V232.85M631.49 232.00V232.85M634.72 232.00V232.85M634.72 232.50V232.85M637.95 232.50V232.85M637.95 232.70V232.85M641.18 232.70V232.85" stroke="rgba(0,0,0,0.32)" stroke-width="0.40" fill="none"/>
<path d="M586.27 232.40H589.50M589.50 232.30H592.73M592.73 232.30H595.96M595.96 231.20H599.19M599.19 229.30H602.42M602.42 225.60H605.65M605.65 217.10H608.88M608.88 204.20H612.11M612.11 188.70H615.34M615.34 181.30H618.57M618.57 184.10H621.80M621.80 203.30H625.03M625.03 221.80H628.26M628.26 229.60H631.49M631.49 232.00H634.72M634.72 232.50H637.95M637.95 232.70H641.18" stroke="rgba(0,0,0,0.50)" stroke-width="0.45" fill="none"/>
<g fill="rgba(255,0,0,0.5)"><rect x="592.73" y="232.60" width="3.23" height="0.25"/><rect x="595.96" y="232.00" width="3.23" height="0.85"/><rect x="599.19" y="230.90" width="3.23" height="1.95"/><rect x="602.42" y="227.20" width="3.23" height="5.65"/><rect x="605.65" y="222.40" width="3.23" height="10.45"/><rect x="608.88" y="215.60" width="3.23" height="17.25"/><rect x="612.11" y="204.90" width="3.23" height="27.95"/><rect x="615.34" y="190.10" width="3.23" height="42.75"/><rect x="618.57" y="186.90" width="3.23" height="45.95"/><rect x="621.80" y="201.20" width="3.23" height="31.65"/><rect x="625.03" y="206.30" width="3.23" height="26.55"/><rect x="628.26" y="218.30" width="3.23" height="14.55"/><rect x="631.49" y="226.30" width="3.23" height="6.55"/><rect x="634.72" y="226.30" width="3.23" height="6.55"/><rect x="637.95" y="228.90" width="3.23" height="3.95"/><rect x="641.18" y="232.00" width="3.23" height="0.85"/></g>
<path d="M592.73 232.60V232.85M595.96 232.60V232.85M595.96 232.00V232.85M599.19 232.00V232.85M599.19 230.90V232.85M602.42 230.90V232.85M602.42 227.20V232.85M605.65 227.20V232.85M605.65 222.40V232.85M608.88 222.40V232.85M608.88 215.60V232.85M612.11 215.60V232.85M612.11 204.90V232.85M615.34 204.90V232.85M615.34 190.10V232.85M618.57 190.10V232.85M618.57 186.90V232.85M621.80 186.90V232.85M621.80 201.20V232.85M625.03 201.20V232.85M625.03 206.30V232.85M628.26 206.30V232.85M628.26 218.30V232.85M631.49 218.30V232.85M631.49 226.30V232.85M634.72 226.30V232.85M634.72 226.30V232.85M637.95 226.30V232.85M637.95 228.90V232.85M641.18 228.90V232.85M641.18 232.00V232.85M644.41 232.00V232.85" stroke="rgba(0,0,0,0.32)" stroke-width="0.40" fill="none"/>
<path d="M592.73 232.60H595.96M595.96 232.00H599.19M599.19 230.90H602.42M602.42 227.20H605.65M605.65 222.40H608.88M608.88 215.60H612.11M612.11 204.90H615.34M615.34 190.10H618.57M618.57 186.90H621.80M621.80 201.20H625.03M625.03 206.30H628.26M628.26 218.30H631.49M631.49 226.30H634.72M634.72 226.30H637.95M637.95 228.90H641.18M641.18 232.00H644.41" stroke="rgba(0,0,0,0.50)" stroke-width="0.45" fill="none"/>
<path d="M542.50 151.55H665.50" fill="none" stroke="#3a3a3a" stroke-width="1"/>
<path d="M543.00 151.55V233.20" fill="none" stroke="#444" stroke-width="1.10"/>
<path d="M665.00 151.55V233.20" fill="none" stroke="#444" stroke-width="1.10"/>
<text class="t" x="538.30" y="234.90" font-size="6.50" text-anchor="end">0</text>
<path d="M539.50 205.70H543.00" stroke="#333" stroke-width="1"/>
<text class="t" x="538.30" y="207.60" font-size="6.50" text-anchor="end">500</text>
<path d="M539.50 178.40H543.00" stroke="#333" stroke-width="1"/>
<text class="t" x="538.30" y="180.30" font-size="6.50" text-anchor="end">1000</text>
<path d="M539.50 151.45H543.00" stroke="#333" stroke-width="1"/>
<text class="t" x="538.30" y="153.35" font-size="6.50" text-anchor="end">1500</text>
<path d="M545.90 233.20V236.60" stroke="#2a2a2a" stroke-width="1"/>
<text class="t" x="548.30" y="242.15" font-size="6.90" text-anchor="end" transform="rotate(-45 548.30 242.15)">0.000</text>
<path d="M561.99 233.20V236.60" stroke="#2a2a2a" stroke-width="1"/>
<text class="t" x="564.39" y="242.15" font-size="6.90" text-anchor="end" transform="rotate(-45 564.39 242.15)">0.025</text>
<path d="M578.08 233.20V236.60" stroke="#2a2a2a" stroke-width="1"/>
<text class="t" x="580.48" y="242.15" font-size="6.90" text-anchor="end" transform="rotate(-45 580.48 242.15)">0.050</text>
<path d="M594.17 233.20V236.60" stroke="#2a2a2a" stroke-width="1"/>
<text class="t" x="596.57" y="242.15" font-size="6.90" text-anchor="end" transform="rotate(-45 596.57 242.15)">0.075</text>
<path d="M610.26 233.20V236.60" stroke="#2a2a2a" stroke-width="1"/>
<text class="t" x="612.66" y="242.15" font-size="6.90" text-anchor="end" transform="rotate(-45 612.66 242.15)">0.100</text>
<path d="M626.35 233.20V236.60" stroke="#2a2a2a" stroke-width="1"/>
<text class="t" x="628.75" y="242.15" font-size="6.90" text-anchor="end" transform="rotate(-45 628.75 242.15)">0.125</text>
<path d="M642.44 233.20V236.60" stroke="#2a2a2a" stroke-width="1"/>
<text class="t" x="644.84" y="242.15" font-size="6.90" text-anchor="end" transform="rotate(-45 644.84 242.15)">0.150</text>
<path d="M658.53 233.20V236.60" stroke="#2a2a2a" stroke-width="1"/>
<text class="t" x="660.93" y="242.15" font-size="6.90" text-anchor="end" transform="rotate(-45 660.93 242.15)">0.175</text>
<text x="604.00" y="264.45" font-size="8.3" text-anchor="middle">MTR<tspan font-size="5.9" dy="2.4">REX</tspan><tspan dy="-2.4">(δ</tspan><tspan font-size="5.9" dy="2.4">NOE</tspan><tspan dy="-2.4">)</tspan></text>
<text x="0" y="0" font-size="8.2" text-anchor="middle" transform="translate(23.9 192.07) rotate(-90)">WM</text>
<rect x="626.1" y="26.9" width="9.8" height="4.8" fill="rgba(0,0,255,0.5)" stroke="rgba(0,0,0,0.55)" stroke-width="0.45"/>
<rect x="626.1" y="37.4" width="9.8" height="4.9" fill="rgba(255,0,0,0.5)" stroke="rgba(0,0,0,0.55)" stroke-width="0.45"/>
<text x="639.6" y="32.0" font-size="6.5">Scan 1</text>
<text x="639.6" y="42.6" font-size="6.5">Scan 2</text>
</svg></body></html>
